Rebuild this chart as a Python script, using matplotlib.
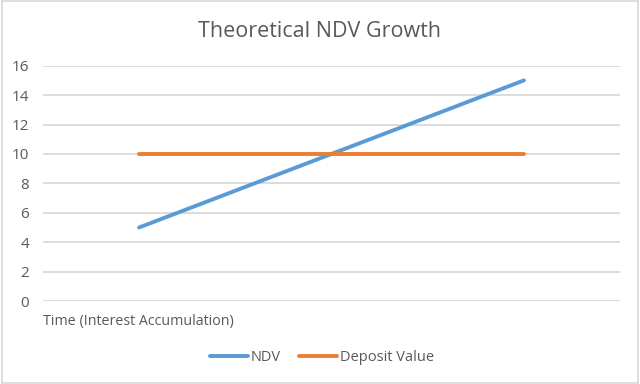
import matplotlib
matplotlib.use("Agg")
from matplotlib import pyplot as plt
import matplotlib.patches as mpatches

# data
periods = ["", "", ""]
ndv = [5, 10, 15]
deposit_value = [10, 10, 10]
y_ticks = [0, 2, 4, 6, 8, 10, 12, 14, 16]

text_col = "#595959"
grid_col = "#D9D9D9"

plt.rcParams['font.family'] = ['Open Sans', 'DejaVu Sans']

fig = plt.figure(figsize=(6.4, 3.84), dpi=100)
ax = fig.add_axes([0.067, 0.216, 0.902, 0.613])

x = list(range(len(periods)))
ax.plot(x, ndv, color="#5B9BD5", lw=2.8, solid_capstyle="round", label="NDV")
ax.plot(x, deposit_value, color="#ED7D31", lw=2.8, solid_capstyle="round", label="Deposit Value")

ax.set_xlim(-0.5, len(periods) - 0.5)
ax.set_ylim(0, 16)
ax.set_yticks(y_ticks)
ax.set_xticks([])
ax.yaxis.grid(True, color=grid_col, lw=1.3)
ax.set_axisbelow(True)
for s in ax.spines.values():
    s.set_visible(False)
ax.tick_params(axis="y", length=0, pad=10, labelsize=11, labelcolor=text_col)

fig.text(0.5, 0.919, "Theoretical NDV Growth", fontsize=15.5, color=text_col,
         ha="center", va="center")
fig.text(0.067, 0.162, "Time (Interest Accumulation)", fontsize=10.3, color=text_col,
         ha="left", va="center")

fig.legend(loc="center", bbox_to_anchor=(0.503, 0.07), ncol=2, frameon=False,
           fontsize=10.5, labelcolor=text_col, handlelength=2.6, handletextpad=0.2,
           columnspacing=1.2)

# outer border like the Excel chart area
fig.patches.append(mpatches.Rectangle((0.003, 0.003), 0.994, 0.994, transform=fig.transFigure,
                                      fill=False, edgecolor="#D9D9D9", lw=1.2))

plt.savefig("out.png")
